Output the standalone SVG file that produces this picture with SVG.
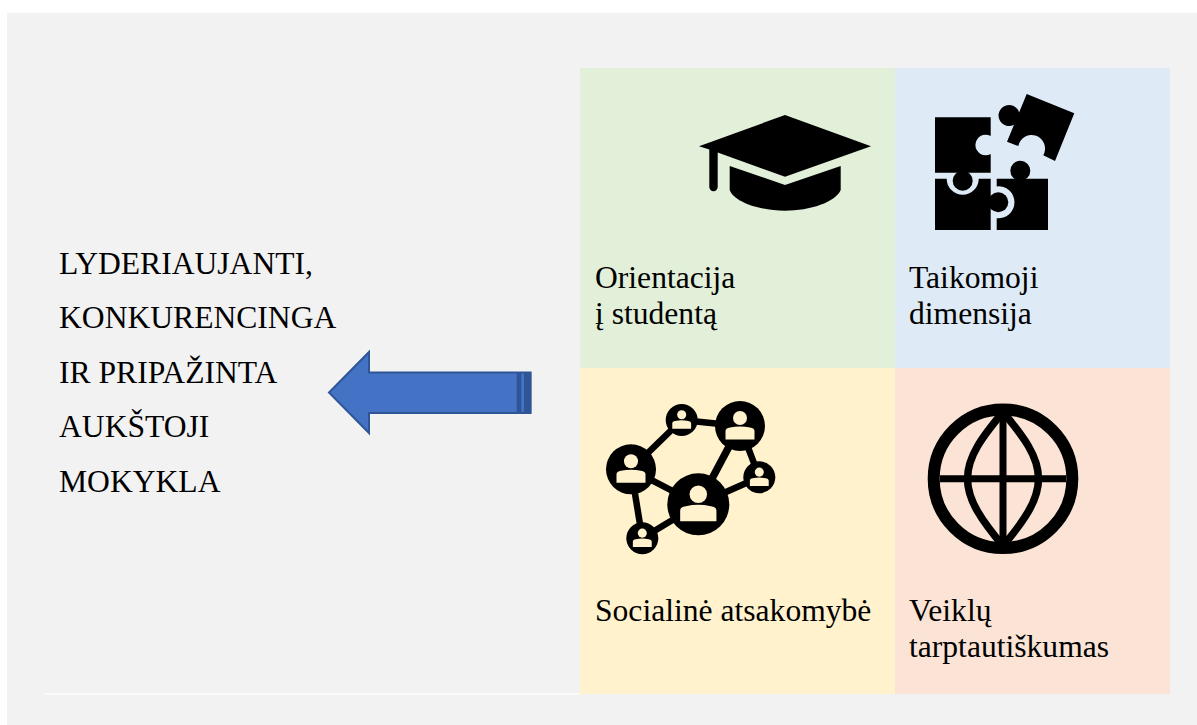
<svg xmlns="http://www.w3.org/2000/svg" width="1197" height="725" viewBox="0 0 1197 725">
<style>
text{font-family:"Liberation Serif","Times New Roman",serif;fill:#000;font-size:31.600px}
.n line{stroke:#000;stroke-width:6.500}
.n circle{fill:#000}
.u{fill:#fff2cc}
</style>
<defs>
<g id="person"><circle cx="0" cy="-8" r="7"/><path d="M-14.500,13.500V5Q-14.500,2-10,1.500Q-5,.4 0,.4T10,1.500Q14.500,2 14.500,5V13.500Z"/></g>
</defs>
<rect width="1197" height="725" fill="#fff"/>
<rect x="7" y="13" width="1190" height="712" fill="#f2f2f2"/>
<rect x="44" y="693" width="536" height="2" fill="#fafafa"/>
<g id="quad-green"><rect x="580" y="68" width="315" height="300" fill="#e2efd9"/>
<path d="M785,115L871,146.300L785,176.700L717.700,152.500V187A4.200,4.200 0 0 1 709.300,187V149.500L699,146.300Z"/>
<path d="M729.700,166L785,185L840.700,166V190C836,202 810,210.700 785,210.700S734,202 729.700,190Z"/>
<text x="595" y="288">Orientacija</text><text x="595" y="324">į studentą</text></g>
<g id="quad-blue"><rect x="895" y="68" width="275" height="300" fill="#deeaf6"/>
<path d="M935,117.300H990.700V136A10.300,10.300 0 1 0 990.700,154V172.700H935Z"/>
<circle cx="962.700" cy="180.700" r="10"/>
<path d="M935,178.700H946.700A16,16 0 1 0 978.700,178.700H990.700V230H935Z"/>
<circle cx="998.300" cy="202.300" r="10"/>
<path d="M996.700,178.700H1048V230H996.700V218.200A16,16 0 1 0 996.700,186.400Z"/>
<circle cx="1020.300" cy="170.700" r="10"/>
<path d="M1026.700,94L1074.300,113.300L1055,161L1043.300,155.200A13.500,13.500 0 1 0 1018.300,146L1007,141.700L1014,124.800A10.500,10.500 0 1 1 1019.100,112.400Z"/>
<text x="909" y="288">Taikomoji</text><text x="909" y="324">dimensija</text></g>
<g id="quad-yellow"><rect x="580" y="368" width="315" height="326" fill="#fff2cc"/>
<g class="n"><line x1="681.700" y1="420" x2="631" y2="469.300"/><line x1="681.700" y1="420" x2="740" y2="426"/><line x1="631" y1="469.300" x2="698.300" y2="504.300"/><line x1="631" y1="469.300" x2="642.300" y2="538.300"/><line x1="740" y1="426" x2="698.300" y2="504.300" style="stroke-width:7.500"/><line x1="740" y1="426" x2="759.300" y2="477.300"/><line x1="759.300" y1="477.300" x2="698.300" y2="504.300"/><line x1="642.300" y1="538.300" x2="698.300" y2="504.300"/>
<circle cx="681.700" cy="420" r="16"/><circle cx="740" cy="426" r="25"/><circle cx="631" cy="469.300" r="25"/><circle cx="759.300" cy="477.300" r="16"/><circle cx="698.300" cy="504.300" r="31"/><circle cx="642.300" cy="538.300" r="16"/></g>
<use href="#person" class="u" transform="translate(681.700,420) scale(.65)"/><use href="#person" class="u" transform="translate(740,426)"/><use href="#person" class="u" transform="translate(631,469.300)"/><use href="#person" class="u" transform="translate(759.300,477.300) scale(.65)"/><use href="#person" class="u" transform="translate(698.300,504.300) scale(1.250)"/><use href="#person" class="u" transform="translate(642.300,538.300) scale(.65)"/>
<text x="595" y="621">Socialinė atsakomybė</text></g>
<g id="quad-salmon"><rect x="895" y="368" width="275" height="326" fill="#fbe4d5"/>
<g fill="none" stroke="#000"><circle cx="1003" cy="478.700" r="69.300" stroke-width="12"/><path d="M1003,410V548M940,478.700H1066" stroke-width="7"/><path d="M1003,412C983,436 967.500,456 967.500,478.700C967.500,501 983,522 1003,546C1023,522 1038.500,501 1038.500,478.700C1038.500,456 1023,436 1003,412Z" stroke-width="7.500"/></g>
<text x="909" y="621">Veiklų</text><text x="909" y="657">tarptautiškumas</text></g>
<g id="arrow"><path d="M530.500,372.500H369V352L329,392.500L369,433V413H530.500Z" fill="#4472c4" stroke="#2f5597" stroke-width="2"/><rect x="516.700" y="373" width="4.600" height="40" fill="#2f5597"/><rect x="524" y="372" width="7.300" height="41" fill="#2f5597"/></g>
<g id="title"><text x="59" y="274">LYDERIAUJANTI,</text><text x="59" y="328">KONKURENCINGA</text><text x="59" y="383">IR PRIPAŽINTA</text><text x="59" y="437">AUKŠTOJI</text><text x="59" y="492">MOKYKLA</text></g>
<g id="connectors"/>
</svg>
